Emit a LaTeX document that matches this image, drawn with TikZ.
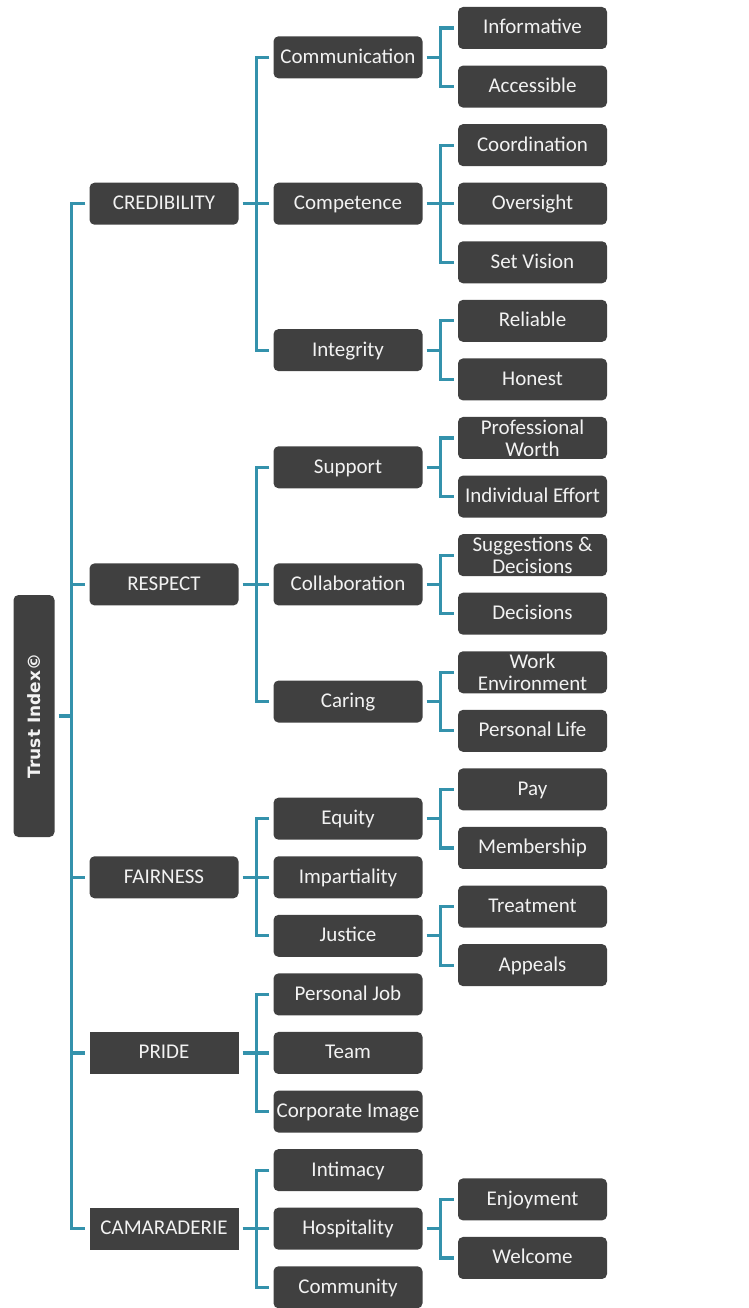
\documentclass[tikz,border=0pt]{standalone}
\usepackage{fontspec}
\setmainfont{Carlito}
\newfontfamily\rootfont{DejaVu Sans}
\usetikzlibrary{calc}
\definecolor{boxfill}{RGB}{64,64,64}
\definecolor{boxtext}{RGB}{242,242,242}
\definecolor{conncol}{RGB}{52,146,172}
\tikzset{
  boxbase/.style={fill=boxfill, text=boxtext, minimum width=149pt, minimum height=42pt,
    inner sep=0pt, font=\fontsize{21}{22}\selectfont, align=center},
  rbox/.style={boxbase, rounded corners=5pt, text height=15pt, text depth=3pt},
  sbox/.style={boxbase, text height=15pt, text depth=3pt},
  tbox/.style={boxbase, rounded corners=5pt},
  rootbox/.style={fill=boxfill, text=boxtext, rounded corners=5pt, rotate=90,
    minimum width=242pt, minimum height=41pt, inner sep=0pt,
    font=\rootfont\bfseries\fontsize{17}{20}\selectfont},
  conn/.style={draw=conncol, line width=3.2pt}
}
\newcommand\bx[5]{\node[#1] (#2) at (#3, {28+58.57*(#4)}) {#5};}
\newcommand\fanout[4]{%
  \coordinate (#1-b) at ([xshift=#4]#1.east);
  \draw[conn] ([xshift=4pt]#1.east) -- (#1-b);
  \draw[conn] ([xshift=-4pt]#2.west) -| (#1-b) |- ([xshift=-4pt]#3.west);}
\newcommand\midstub[2]{\draw[conn] (#1-b |- #2.west) -- ([xshift=-4pt]#2.west);}
\begin{document}
\begin{tikzpicture}[x=1pt, y=-1pt]
\useasboundingbox (0,0) rectangle (748,1308);
% root
\node[rootbox] (root) at (34,716) {Trust Index©};
% level 1
\bx{rbox}{cred}{164}{3}{CREDIBILITY}
\bx{rbox}{resp}{164}{9.5}{RESPECT}
\bx{rbox}{fair}{164}{14.5}{FAIRNESS}
\bx{sbox}{pride}{164}{17.5}{PRIDE}
\bx{sbox}{cam}{164}{20.5}{CAMARADERIE}
% level 2
\bx{rbox}{comm}{348}{0.5}{Communication}
\bx{rbox}{compt}{348}{3}{Competence}
\bx{rbox}{integ}{348}{5.5}{Integrity}
\bx{rbox}{supp}{348}{7.5}{Support}
\bx{rbox}{collab}{348}{9.5}{Collaboration}
\bx{rbox}{caring}{348}{11.5}{Caring}
\bx{rbox}{equity}{348}{13.5}{Equity}
\bx{rbox}{impart}{348}{14.5}{Impartiality}
\bx{rbox}{justice}{348}{15.5}{Justice}
\bx{rbox}{pjob}{348}{16.5}{Personal Job}
\bx{rbox}{team}{348}{17.5}{Team}
\bx{rbox}{corp}{348}{18.5}{Corporate Image}
\bx{rbox}{intim}{348}{19.5}{Intimacy}
\bx{rbox}{hosp}{348}{20.5}{Hospitality}
\bx{rbox}{commu}{348}{21.5}{Community}
% level 3
\bx{rbox}{info}{532.5}{0}{Informative}
\bx{rbox}{access}{532.5}{1}{Accessible}
\bx{rbox}{coord}{532.5}{2}{Coordination}
\bx{rbox}{overs}{532.5}{3}{Oversight}
\bx{rbox}{setv}{532.5}{4}{Set Vision}
\bx{rbox}{reli}{532.5}{5}{Reliable}
\bx{rbox}{hon}{532.5}{6}{Honest}
\bx{tbox}{profw}{532.5}{7}{Professional\\Worth}
\bx{rbox}{indiv}{532.5}{8}{Individual Effort}
\bx{tbox}{sugg}{532.5}{9}{Suggestions \&\\Decisions}
\bx{rbox}{dec}{532.5}{10}{Decisions}
\bx{tbox}{work}{532.5}{11}{Work\\Environment}
\bx{rbox}{plife}{532.5}{12}{Personal Life}
\bx{rbox}{pay}{532.5}{13}{Pay}
\bx{rbox}{memb}{532.5}{14}{Membership}
\bx{rbox}{treat}{532.5}{15}{Treatment}
\bx{rbox}{appe}{532.5}{16}{Appeals}
\bx{rbox}{enjoy}{532.5}{20}{Enjoyment}
\bx{rbox}{welc}{532.5}{21}{Welcome}
% connectors: root (rotated node, its right side is the anchor 'south')
\coordinate (root-b) at ([xshift=16.5pt]root.south);
\draw[conn] ([xshift=4pt]root.south) -- (root-b);
\draw[conn] ([xshift=-4pt]cred.west) -| (root-b) |- ([xshift=-4pt]cam.west);
\midstub{root}{resp}\midstub{root}{fair}\midstub{root}{pride}
\fanout{cred}{comm}{integ}{18pt}\midstub{cred}{compt}
\fanout{comm}{info}{access}{18pt}
\fanout{compt}{coord}{setv}{18pt}\midstub{compt}{overs}
\fanout{integ}{reli}{hon}{18pt}
\fanout{resp}{supp}{caring}{18pt}\midstub{resp}{collab}
\fanout{supp}{profw}{indiv}{18pt}
\fanout{collab}{sugg}{dec}{18pt}
\fanout{caring}{work}{plife}{18pt}
\fanout{fair}{equity}{justice}{18pt}\midstub{fair}{impart}
\fanout{equity}{pay}{memb}{18pt}
\fanout{justice}{treat}{appe}{18pt}
\fanout{pride}{pjob}{corp}{18pt}\midstub{pride}{team}
\fanout{cam}{intim}{commu}{18pt}\midstub{cam}{hosp}
\fanout{hosp}{enjoy}{welc}{18pt}
\end{tikzpicture}
\end{document}
